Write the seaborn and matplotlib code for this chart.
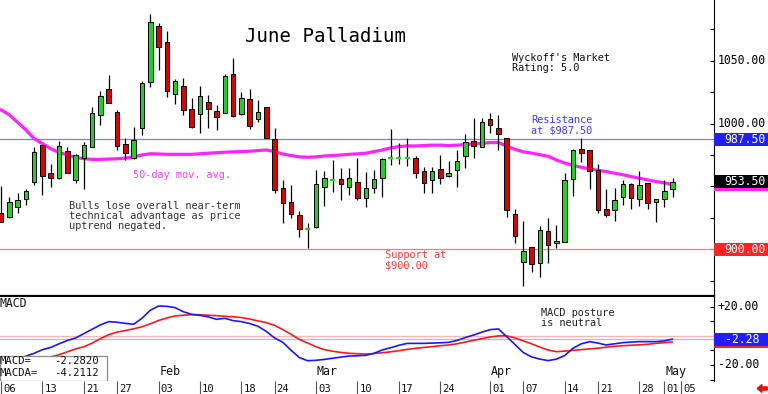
import numpy as np
import pandas as pd
import matplotlib
matplotlib.use("Agg")
import matplotlib.pyplot as plt
from matplotlib.patches import Rectangle, FancyArrow
import seaborn as sns

sns.set_theme(style="white")
plt.rcParams["font.family"] = ["DejaVu Sans Mono", "DejaVu Sans"]

# -- trading calendar (2025, exchange holidays removed) ----------
holidays = ["2025-01-20", "2025-02-17", "2025-04-18"]
days = pd.bdate_range("2025-01-06", "2025-05-05")
days = days[~days.isin(pd.to_datetime(holidays))]
pos = {d.strftime("%Y-%m-%d"): i for i, d in enumerate(days)}

# -- June palladium daily OHLC -----------------------------------
opens = [929.2, 925.4, 933.4, 939.8, 953.8, 982.7, 960.5, 956.5, 978.5, 955.1,
         972.9, 981.7, 1007.1, 1027.3, 1009.5, 983.8, 972.4, 996.3, 1032.9, 1077.7,
         1064.7, 1023.6, 1029.9, 1011.4, 1007.4, 1017.5, 1009.8, 1008.7, 1039.5, 1007.7,
         1019.6, 1003.4, 1013.5, 987.5, 948.5, 937.4, 927.3, 915.9, 917.5, 949.8,
         955.1, 956.0, 949.8, 953.8, 940.6, 948.5, 956.5, 972.9, 972.9, 972.9,
         972.4, 962.0, 955.1, 963.6, 958.3, 963.1, 974.2, 986.2, 981.7, 1003.4,
         996.8, 988.3, 928.1, 890.2, 901.6, 889.4, 914.8, 904.8, 906.1, 955.7,
         979.5, 979.0, 963.1, 931.8, 931.3, 941.9, 952.0, 939.8, 953.0, 937.4,
         939.8, 947.7]
highs = [950.4, 941.9, 945.1, 947.7, 981.7, 982.7, 967.9, 986.4, 981.7, 975.8,
         985.6, 1013.5, 1026.2, 1038.7, 1010.8, 988.3, 997.6, 1033.9, 1087.2, 1080.3,
         1074.0, 1035.2, 1036.0, 1020.1, 1030.2, 1022.8, 1014.8, 1039.2, 1051.9, 1025.4,
         1027.5, 1018.8, 1013.5, 996.3, 955.1, 951.2, 930.5, 920.7, 963.1, 962.3,
         971.0, 965.0, 964.4, 972.4, 961.8, 963.1, 972.4, 995.7, 984.3, 988.3,
         974.2, 965.2, 965.2, 975.0, 970.5, 979.0, 991.7, 1004.2, 1004.2, 1008.7,
         1006.9, 988.3, 931.8, 922.8, 901.6, 918.6, 924.6, 919.4, 960.5, 979.5,
         988.3, 979.0, 967.9, 947.7, 949.1, 955.1, 952.5, 962.3, 953.0, 939.8,
         955.1, 957.0]
lows = [921.5, 924.6, 928.6, 935.3, 951.2, 943.2, 949.8, 956.0, 960.5, 952.5,
        948.0, 981.1, 998.9, 1016.0, 979.0, 971.1, 972.0, 991.0, 1028.9, 1042.7,
        1021.4, 1015.6, 1006.9, 996.3, 992.3, 996.3, 994.9, 1008.2, 1005.5, 1006.9,
        995.5, 1001.6, 988.3, 945.1, 921.2, 924.6, 910.1, 900.8, 916.7, 934.5,
        945.8, 939.2, 943.2, 939.2, 933.9, 944.5, 941.4, 967.1, 967.9, 966.3,
        956.5, 944.5, 944.5, 952.0, 957.8, 949.8, 964.4, 972.4, 981.1, 992.3,
        979.0, 925.4, 905.3, 870.8, 882.2, 878.2, 888.8, 900.8, 905.6, 942.4,
        969.7, 948.0, 929.2, 925.4, 922.8, 935.3, 931.8, 934.5, 932.1, 922.0,
        934.0, 941.9]
closes = [922.0, 937.4, 939.2, 946.4, 977.2, 958.6, 956.5, 982.2, 961.0, 974.8,
          982.7, 1008.2, 1022.2, 1016.1, 982.2, 976.9, 987.0, 1032.1, 1080.6, 1060.7,
          1026.2, 1034.2, 1010.8, 997.6, 1022.2, 1011.4, 1005.5, 1037.9, 1006.1, 1020.1,
          998.4, 1009.5, 988.8, 947.2, 936.6, 927.8, 916.2, 915.9, 951.7, 956.5,
          955.1, 952.0, 956.5, 940.6, 949.1, 955.7, 971.6, 972.9, 972.9, 972.9,
          961.0, 953.0, 962.3, 956.5, 961.0, 970.5, 985.6, 982.5, 1001.6, 998.9,
          991.5, 931.3, 910.6, 898.9, 888.3, 915.4, 903.4, 906.9, 955.1, 979.0,
          976.9, 962.6, 931.3, 927.3, 939.2, 952.0, 940.6, 951.2, 936.6, 939.8,
          946.4, 953.5]

# 50-day moving average as drawn
ma50 = [1011.0, 1007.0, 1001.0, 995.0, 988.0, 984.0, 980.0, 977.0, 975.0, 973.0,
        972.0, 971.5, 971.5, 971.8, 972.0, 972.5, 973.5, 975.0, 976.0, 975.8,
        975.5, 975.5, 975.5, 975.5, 976.0, 976.4, 976.8, 977.2, 977.5, 977.7,
        978.0, 978.5, 979.0, 977.7, 975.8, 974.5, 973.5, 973.2, 973.5, 974.2,
        974.6, 975.0, 975.5, 975.9, 976.4, 977.7, 979.0, 980.6, 981.7, 982.2,
        982.2, 982.5, 982.8, 982.8, 982.5, 982.8, 983.3, 983.8, 984.3, 984.9,
        984.9, 982.0, 979.5, 977.5, 976.5, 975.2, 974.0, 971.0, 968.5, 966.8,
        965.2, 964.0, 962.8, 961.8, 960.5, 959.3, 957.8, 956.5, 955.2, 953.8,
        952.8, 951.5]

# MACD and its signal line (MACDA)
macd = [-19.0, -18.0, -16.0, -14.0, -12.0, -9.5, -8.0, -5.5, -3.2, -1.5,
        1.5, 4.5, 7.5, 9.7, 9.3, 8.5, 7.9, 12.0, 17.5, 20.4,
        20.2, 19.3, 16.5, 14.7, 14.0, 13.0, 11.3, 12.0, 10.4, 9.7,
        8.4, 6.5, 3.0, -1.5, -4.5, -10.0, -15.0, -17.1, -16.8, -16.2,
        -15.4, -14.6, -13.9, -13.7, -13.4, -12.0, -9.7, -8.2, -6.5, -5.2,
        -5.2, -5.2, -5.0, -4.8, -4.5, -3.2, -1.2, 0.5, 2.5, 4.2,
        4.7, -0.6, -6.0, -11.5, -14.5, -16.0, -17.0, -16.0, -13.5, -8.5,
        -5.5, -4.0, -5.0, -6.3, -5.5, -4.7, -4.3, -4.0, -4.0, -4.0,
        -3.5, -2.282]
macda = [-24.0, -23.0, -21.5, -20.0, -18.0, -16.5, -14.5, -13.0, -11.0, -9.0,
         -7.5, -5.0, -2.0, 0.8, 2.5, 3.6, 4.8, 6.2, 8.2, 10.5,
         12.2, 13.6, 14.1, 14.5, 14.4, 14.1, 13.8, 13.4, 13.0, 12.5,
         11.5, 10.2, 9.0, 7.2, 4.2, 1.0, -2.5, -5.0, -7.5, -9.5,
         -10.6, -11.4, -12.0, -12.3, -12.5, -12.2, -11.6, -11.0, -10.2, -9.3,
         -8.6, -8.0, -7.4, -6.8, -6.3, -5.5, -4.3, -3.1, -2.0, -0.8,
         -0.1, 0.0, -1.5, -3.5, -5.5, -7.8, -9.8, -10.9, -10.5, -10.0,
         -9.5, -9.0, -8.5, -7.8, -7.2, -6.8, -6.5, -6.2, -5.8, -5.2,
         -4.7, -4.2112]

resistance = 987.50
support = 900.00

tick_dates = ["2025-01-06", "2025-01-13", "2025-01-21", "2025-01-27", "2025-02-03",
              "2025-02-10", "2025-02-18", "2025-02-24", "2025-03-03", "2025-03-10",
              "2025-03-17", "2025-03-24", "2025-04-01", "2025-04-07", "2025-04-14",
              "2025-04-21", "2025-04-28", "2025-05-01", "2025-05-05"]
month_dates = ["2025-02-03", "2025-03-03", "2025-04-01", "2025-05-01"]
month_names = ["Feb", "Mar", "Apr", "May"]

# -- colours ----------------------------------------------------
UP, DN = "#1ed21e", "#e00000"
MA_C = "#ff22ff"
BLUE, RED = "#1818ff", "#ff1818"

n = len(closes)
x = np.arange(n)
o, h, l, c = map(np.array, (opens, highs, lows, closes))
XL = (-0.12, 86.0)

fig = plt.figure(figsize=(7.68, 3.94), dpi=100)
fig.patch.set_facecolor("white")
W = 714 / 768
ax = fig.add_axes([0, 98 / 394, W, 296 / 394])
axm = fig.add_axes([0, 13 / 394, W, 84 / 394])
axd = fig.add_axes([0, 0, W, 13 / 394])

# -- price panel ------------------------------------------------
ax.axhline(resistance, color="#7878ff", lw=0.9, zorder=1)
ax.axhline(support, color="#ff7878", lw=0.9, zorder=1)
sns.lineplot(x=x, y=ma50, ax=ax, color=MA_C, lw=2.3, zorder=3, legend=False)

ax.vlines(x, l, h, color="black", lw=0.9, zorder=4)
flat = np.abs(c - o) < 0.3
body_col = np.where(c >= o, UP, DN)
ax.bar(x[~flat], np.abs(c - o)[~flat], bottom=np.minimum(o, c)[~flat], width=0.55,
       color=body_col[~flat], edgecolor="black", linewidth=0.7, zorder=5)
ax.hlines(c[flat], x[flat] - 0.3, x[flat] + 0.3, color=UP, lw=1.6, zorder=5)

ax.set_xlim(*XL)
ax.set_ylim(862.8, 1098.3)
ax.set_xticks([])
ax.yaxis.tick_right()
ax.set_yticks(np.arange(875, 1100, 25))
ax.tick_params(axis="y", direction="in", length=3, width=0.8, color="black",
               right=True, left=False, labelright=False, labelleft=False)
for s in ["top", "left"]:
    ax.spines[s].set_visible(False)
ax.spines["bottom"].set_color("black")
ax.spines["bottom"].set_linewidth(1.6)
ax.spines["right"].set_color("black")
ax.spines["right"].set_linewidth(0.8)

txt = dict(fontsize=7.4, ha="left", va="center", linespacing=1.05, zorder=7)
ax.text(29.4, 1068.9, "June Palladium", fontsize=13.7, ha="left", va="center", color="black")
ax.text(61.6, 1048.2, "Wyckoff's Market\nRating: 5.0", color="#111111", **txt)
ax.text(63.9, 998.5, "Resistance\nat $987.50", color="#3a3aff", **txt)
ax.text(15.9, 959.1, "50-day mov. avg.", color="#ff40ff", **txt)
ax.text(8.2, 926.5, "Bulls lose overall near-term\ntechnical advantage as price\nuptrend negated.",
        color="#333333", **txt)
ax.text(46.3, 891.5, "Support at\n$900.00", color="#ff3a3a", **txt)


def right_label(a, y, s, box_h, fc=None, tc="black", xr=1.0728, fs=8.3):
    tr = a.get_yaxis_transform()
    if fc is not None:
        a.add_patch(Rectangle((1.0, y - box_h / 2), 54 / 714, box_h, transform=tr,
                              facecolor=fc, edgecolor="none", clip_on=False, zorder=8))
    a.text(xr, y, s, transform=tr, ha="right", va="center", color=tc,
           fontsize=fs, clip_on=False, zorder=9)


PH = 13 / 1.257
right_label(ax, 1050, "1050.00", PH)
right_label(ax, 1000, "1000.00", PH)
right_label(ax, resistance, "987.50", PH, fc="#2020ff", tc="white")
right_label(ax, ma50[-1], "", PH, fc=MA_C)
right_label(ax, closes[-1], f"{closes[-1]:.2f}", PH, fc="black", tc="white")
right_label(ax, support, "900.00", PH, fc="#ff2424", tc="white")

# -- MACD panel -------------------------------------------------
axm.axhline(0, color="#ffb4b4", lw=0.9, zorder=1)
axm.axhline(macd[-1], color="#b4b4ff", lw=0.9, zorder=1)
sns.lineplot(x=x, y=macda, ax=axm, color=RED, lw=1.2, zorder=3, legend=False)
sns.lineplot(x=x, y=macd, ax=axm, color=BLUE, lw=1.2, zorder=4, legend=False)
axm.set_xlim(*XL)
axm.set_ylim(-31.0, 26.6)
axm.set_xticks([])
axm.yaxis.tick_right()
axm.set_yticks(np.arange(-30, 30, 10))
axm.tick_params(axis="y", direction="in", length=3, width=0.8, color="black",
                right=True, left=False, labelright=False, labelleft=False)
for s in ["top", "left", "bottom"]:
    axm.spines[s].set_visible(False)
axm.spines["right"].set_color("black")
axm.spines["right"].set_linewidth(0.8)

MH = 13 / 1.458
right_label(axm, 20, "+20.00", MH, xr=1.063)
right_label(axm, -20, "-20.00", MH, xr=1.063)
right_label(axm, macda[-1], "", MH, fc="#ff2020")
right_label(axm, macd[-1], f"{macd[-1]:.2f}", MH, fc="#2020ff", tc="white", xr=1.063)

axm.text(0.0, 0.917, "MACD", transform=axm.transAxes, fontsize=8.3, ha="left",
         va="center", color="#111111")
axm.text(65.1, 12.2, "MACD posture\nis neutral", color="#222222", **txt)

axm.add_patch(Rectangle((0.0, 0.004), 0.15, 0.297, transform=axm.transAxes,
                        facecolor="white", edgecolor="#8c8c8c", lw=0.9, zorder=10))
for yy, name, val in [(0.238, "MACD=", macd[-1]), (0.098, "MACDA=", macda[-1])]:
    axm.text(0.0, yy, name, transform=axm.transAxes, fontsize=7.7, ha="left",
             va="center", color="#111111", zorder=11)
    axm.text(0.1387, yy, f"{val:.4f}", transform=axm.transAxes, fontsize=7.7,
             ha="right", va="center", color="#111111", zorder=11)

mtr = axm.get_xaxis_transform()
for d, name in zip(month_dates, month_names):
    axm.text(pos[d] + 0.1, 0.03, name, transform=mtr, fontsize=8.4, ha="left",
             va="bottom", color="#111111")

# -- date strip -------------------------------------------------
axd.set_xlim(*XL)
axd.set_ylim(0, 1)
axd.axis("off")
for d in tick_dates:
    axd.vlines(pos[d], 0, 1, color="#555555", lw=0.8)
    axd.text(pos[d] + 0.25, 0.42, d[-2:], fontsize=7.6, ha="left", va="center",
             color="#111111")

fig.patches.append(FancyArrow(0.999, 0.014, -0.013, 0, width=0.008, head_width=0.02,
                              head_length=0.006, length_includes_head=True,
                              color="#e81010", transform=fig.transFigure, figure=fig))

fig.savefig("out.png", dpi=100, facecolor="white")
